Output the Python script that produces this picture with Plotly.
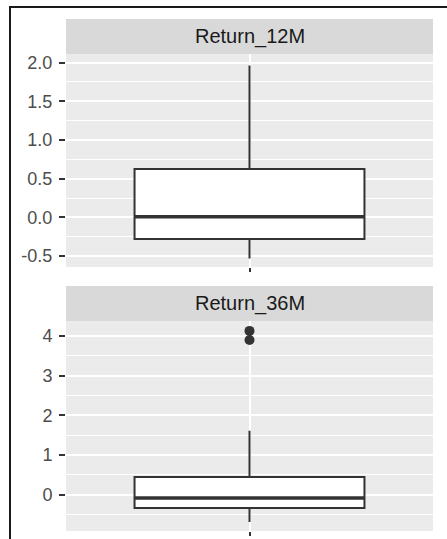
import plotly.graph_objects as go

W, H = 447, 539

# ---- data ----
panels = ["Return_12M", "Return_36M"]
q1 = [-0.28, -0.34]
median = [0.01, -0.085]
q3 = [0.625, 0.445]
lower_whisker = [-0.53, -0.69]
upper_whisker = [1.96, 1.61]
outliers_36m = [4.13, 3.90]

y_ranges = [[-0.64, 2.11], [-0.92, 4.38]]
y_ticks = [[-0.5, 0.0, 0.5, 1.0, 1.5, 2.0], [0, 1, 2, 3, 4]]
y_ticktext = [["-0.5", "0.0", "0.5", "1.0", "1.5", "2.0"], ["0", "1", "2", "3", "4"]]
y_minor = [0.25, 0.5]

# ---- style ----
FONT = "Liberation Sans, Arial, sans-serif"
BOX_W = 1.253
LINE = "#333333"

def py(px):
    return 1 - px / H

x_dom = [66 / W, 433 / W]
panel_px = [(54, 267), (321, 531)]
strip_px = [(19, 54), (286, 321)]

fig = go.Figure()
for i, name in enumerate(panels):
    xa = "x" if i == 0 else "x2"
    ya = "y" if i == 0 else "y2"
    fig.add_trace(go.Box(
        x=[1], q1=[q1[i]], median=[median[i]], q3=[q3[i]],
        lowerfence=[lower_whisker[i]], upperfence=[upper_whisker[i]],
        width=BOX_W, whiskerwidth=0, boxpoints=False,
        fillcolor="white", line=dict(color=LINE, width=2),
        xaxis=xa, yaxis=ya, showlegend=False, hoverinfo="skip",
    ))
    fig.add_trace(go.Scatter(
        x=[1 - BOX_W / 2, 1 + BOX_W / 2], y=[median[i], median[i]],
        mode="lines", line=dict(color=LINE, width=3.5),
        xaxis=xa, yaxis=ya, showlegend=False, hoverinfo="skip",
    ))

fig.add_trace(go.Scatter(
    x=[1] * len(outliers_36m), y=outliers_36m, mode="markers",
    marker=dict(color=LINE, size=10),
    xaxis="x2", yaxis="y2", showlegend=False, hoverinfo="skip",
))

axis_common = dict(
    showline=False, zeroline=False,
    gridcolor="white", gridwidth=1.6,
    ticks="outside", ticklen=6, tickwidth=1.5, tickcolor=LINE,
    tickfont=dict(family=FONT, size=18, color="#4D4D4D"),
)

layout = dict(
    width=W, height=H, margin=dict(l=0, r=0, t=0, b=0),
    paper_bgcolor="white", plot_bgcolor="#EBEBEB",
    font=dict(family=FONT),
)
for i in range(2):
    sfx = "" if i == 0 else "2"
    top, bot = panel_px[i]
    layout["xaxis" + sfx] = dict(
        axis_common, domain=x_dom, anchor="y" + sfx, range=[0, 2],
        tickvals=[1], ticktext=[""], showgrid=True, fixedrange=True,
        ticklen=4,
    )
    layout["yaxis" + sfx] = dict(
        axis_common, domain=[py(bot), py(top)], anchor="x" + sfx,
        range=y_ranges[i], tickvals=y_ticks[i], ticktext=y_ticktext[i],
        minor=dict(dtick=y_minor[i], tick0=0, showgrid=True,
                   gridcolor="white", gridwidth=0.8, ticks=""),
        ticklabelstandoff=3,
    )
fig.update_layout(**layout)

shapes = []
annotations = []
for i, name in enumerate(panels):
    st, sb = strip_px[i]
    shapes.append(dict(type="rect", xref="paper", yref="paper",
                       x0=x_dom[0], x1=x_dom[1], y0=py(sb), y1=py(st),
                       fillcolor="#D9D9D9", line=dict(width=0), layer="below"))
    annotations.append(dict(xref="paper", yref="paper",
                            x=(x_dom[0] + x_dom[1]) / 2, y=(py(sb) + py(st)) / 2,
                            text=name, showarrow=False,
                            font=dict(family=FONT, size=20, color="#1A1A1A"),
                            xanchor="center", yanchor="middle"))
# screenshot frame lines (left and top)
shapes.append(dict(type="line", xref="paper", yref="paper",
                   x0=10 / W, x1=10 / W, y0=0, y1=py(6), line=dict(color="#1A1A1A", width=2)))
shapes.append(dict(type="line", xref="paper", yref="paper",
                   x0=9 / W, x1=1, y0=py(7), y1=py(7), line=dict(color="#1A1A1A", width=2)))
fig.update_layout(shapes=shapes, annotations=annotations)

fig.write_html("out.html", config={"displayModeBar": False},
               post_script="document.body.style.margin='0px';document.body.style.overflow='hidden';")
